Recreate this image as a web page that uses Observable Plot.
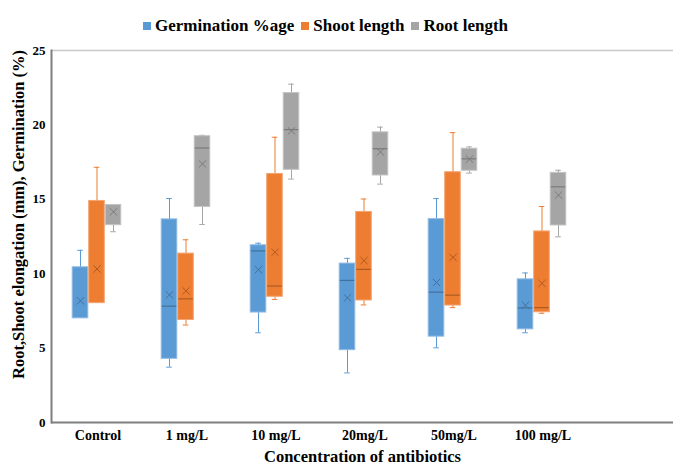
<!DOCTYPE html>
<html><head><meta charset="utf-8">
<script src="https://cdn.jsdelivr.net/npm/d3@7"></script>
<script src="https://cdn.jsdelivr.net/npm/@observablehq/plot@0.6"></script>
<style>
body{margin:0;background:#fff;overflow:hidden;font-family:"Liberation Serif","Times New Roman",serif;}
#legend{height:40px;box-sizing:border-box;padding-top:15px;padding-left:143px;display:flex;align-items:flex-start;font-weight:bold;font-size:17px;line-height:22px;color:#000;}
.item{display:flex;align-items:center;margin-right:7px;}
.sw{width:8px;height:8px;margin-right:4px;}
</style></head><body>
<div id="legend"></div><div id="chart"></div>
<script>
const categories = ["Control", "1 mg/L", "10 mg/L", "20mg/L", "50mg/L", "100 mg/L"];
const seriesNames = ["Germination %age", "Shoot length", "Root length"];
const yTicks = [0, 5, 10, 15, 20, 25];

const germMin    = [7.0, 3.72, 6.03, 3.33, 5.02, 6.03];
const germQ1     = [7.0, 4.28, 7.39, 4.86, 5.77, 6.26];
const germMedian = [null, 7.82, 11.53, 9.55, 8.76, 7.70];
const germQ3     = [10.43, 13.65, 11.91, 10.68, 13.67, 9.62];
const germMax    = [11.57, 15.05, 12.05, 11.03, 15.05, 10.05];
const germMean   = [8.18, 8.58, 10.27, 8.38, 9.41, 7.88];

const shootMin    = [8.02, 6.55, 8.27, 7.90, 7.72, 7.34];
const shootQ1     = [8.02, 6.89, 8.45, 8.20, 7.86, 7.41];
const shootMedian = [null, 8.31, 9.17, 10.29, 8.56, 7.72];
const shootQ3     = [14.89, 11.35, 16.70, 14.15, 16.82, 12.84];
const shootMax    = [17.15, 12.28, 19.17, 15.02, 19.48, 14.52];
const shootMean   = [10.32, 8.85, 11.44, 10.88, 11.10, 9.35];

const rootMin    = [12.82, 13.31, 16.36, 16.02, 16.76, 12.48];
const rootQ1     = [13.26, 14.48, 16.98, 16.60, 16.92, 13.24];
const rootMedian = [null, 18.45, 19.68, 18.40, 17.72, 15.84];
const rootQ3     = [14.62, 19.24, 22.14, 19.50, 18.40, 16.78];
const rootMax    = [14.62, 19.30, 22.74, 19.85, 18.52, 16.95];
const rootMean   = [14.16, 17.38, 19.60, 18.18, 17.70, 15.28];

const stats = [
  [germMin, germQ1, germMedian, germQ3, germMax, germMean],
  [shootMin, shootQ1, shootMedian, shootQ3, shootMax, shootMean],
  [rootMin, rootQ1, rootMedian, rootQ3, rootMax, rootMean]
];
const colors = ["#5b9bd5", "#ed7d31", "#a5a5a5"];
const light  = ["#8fbbe4", "#f3a470", "#c4c4c4"];
const dark   = ["#41719c", "#ae5a21", "#7a7a7a"];
const offsets = [-17.5, -1, 15.5];

// legend
const legend = document.getElementById("legend");
seriesNames.forEach((n, i) => {
  const it = document.createElement("div"); it.className = "item";
  const sw = document.createElement("div"); sw.className = "sw"; sw.style.background = colors[i];
  const t = document.createElement("span"); t.textContent = n;
  it.appendChild(sw); it.appendChild(t); legend.appendChild(it);
});

const W = 673, H = 428, mL = 51, rangeEnd = 677;
const xDomain = [...categories, " "];
const bw = (rangeEnd - mL) / xDomain.length;
const boxW = 16, capW = 6;
const boxInset = (bw - boxW) / 2, capInset = (bw - capW) / 2;

const marks = [];
marks.push(Plot.ruleY([d3.max(yTicks)], {stroke: "#c9c9c9", strokeWidth: 1.5}));
stats.forEach((s, k) => {
  const rows = categories.map((c, i) => ({cat: c, min: s[0][i], q1: s[1][i], med: s[2][i], q3: s[3][i], max: s[4][i], mean: s[5][i]}));
  const dx = offsets[k];
  marks.push(Plot.ruleX(rows, {x: "cat", y1: "min", y2: "max", stroke: colors[k], strokeWidth: 1, dx}));
  marks.push(Plot.tickY(rows.filter(d => d.max > d.q3), {x: "cat", y: "max", stroke: colors[k], strokeWidth: 1, dx, insetLeft: capInset, insetRight: capInset}));
  marks.push(Plot.tickY(rows.filter(d => d.min < d.q1), {x: "cat", y: "min", stroke: colors[k], strokeWidth: 1, dx, insetLeft: capInset, insetRight: capInset}));
  marks.push(Plot.barY(rows, {x: "cat", y1: "q1", y2: "q3", fill: colors[k], stroke: light[k], strokeWidth: 1, dx, insetLeft: boxInset, insetRight: boxInset}));
  marks.push(Plot.tickY(rows.filter(d => d.med != null), {x: "cat", y: "med", stroke: dark[k], strokeWidth: 1.2, dx, insetLeft: boxInset + 0.5, insetRight: boxInset + 0.5}));
  marks.push(Plot.dot(rows, {x: "cat", y: "mean", symbol: "times", r: 3.4, stroke: dark[k], strokeWidth: 1, dx}));
});
marks.push(Plot.frame({anchor: "left", stroke: "#7f7f7f", strokeWidth: 2}));
marks.push(Plot.ruleY([0], {stroke: "#7f7f7f", strokeWidth: 2}));
marks.push(Plot.axisY({ticks: yTicks, tickSize: 0, tickPadding: 6, fontSize: 13, fontWeight: "bold", fill: "#000", label: null}));
marks.push(Plot.axisX({tickSize: 0, tickPadding: 8, fontSize: 14, fontWeight: "bold", fill: "#000", label: null}));
marks.push(Plot.text(["Root,Shoot elongation (mm), Germination (%)"], {frameAnchor: "left", textAnchor: "middle", rotate: -90, dx: -33, dy: -22, fontSize: 16.5, fontWeight: "bold", fill: "#000"}));
marks.push(Plot.text(["Concentration of antibiotics"], {frameAnchor: "bottom", dy: 39, fontSize: 16.5, fontWeight: "bold", fill: "#000"}));

const chart = Plot.plot({
  width: W, height: H,
  marginLeft: mL, marginRight: 0, marginTop: 10, marginBottom: 46,
  style: {fontFamily: "'Liberation Serif', 'Times New Roman', serif", background: "#fff", overflow: "hidden"},
  x: {domain: xDomain, range: [mL, rangeEnd], padding: 0},
  y: {domain: [0, 25]},
  marks
});
document.getElementById("chart").appendChild(chart);
</script>
</body></html>
